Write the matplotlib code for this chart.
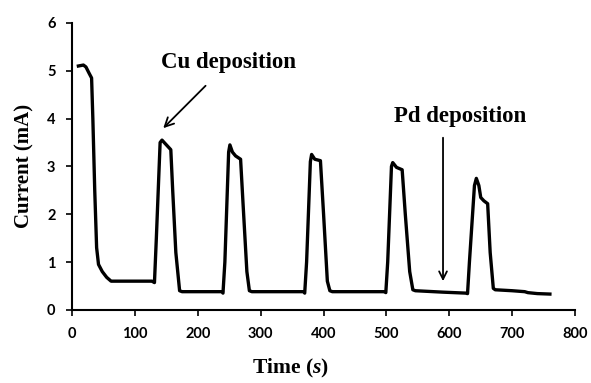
import matplotlib
matplotlib.use("Agg")
from matplotlib import pyplot as plt

plt.rcParams["mathtext.fontset"] = "custom"
plt.rcParams["mathtext.it"] = "Liberation Serif:italic:bold"
plt.rcParams["mathtext.rm"] = "Liberation Serif:bold"

# time (s) / current (mA)
time = [10, 18, 22, 27, 31, 33, 36, 39, 42, 48, 55, 62, 100, 127,
        131, 134, 140, 143, 150, 157, 160, 165, 171, 175,
        238, 240, 243, 249, 251, 255, 260, 268, 272, 278, 282, 286,
        368, 370, 373, 379, 381, 386, 395, 400, 406, 410, 414,
        497, 499, 502, 508, 510, 516, 525, 530, 537, 542, 546,
        590, 626, 629, 632, 640, 643, 647, 650, 655, 661, 665, 670, 673,
        700, 720, 725, 740, 760]
current = [5.1, 5.12, 5.08, 4.95, 4.85, 4.0, 2.5, 1.3, 0.95, 0.8, 0.68, 0.6, 0.6, 0.6,
           0.57, 1.5, 3.5, 3.55, 3.45, 3.35, 2.5, 1.2, 0.4, 0.38,
           0.38, 0.35, 1.0, 3.3, 3.45, 3.3, 3.22, 3.15, 2.2, 0.8, 0.4, 0.38,
           0.38, 0.35, 1.0, 3.1, 3.25, 3.15, 3.12, 2.0, 0.6, 0.4, 0.38,
           0.38, 0.36, 1.0, 3.0, 3.08, 2.98, 2.93, 2.0, 0.8, 0.42, 0.40,
           0.37, 0.35, 0.34, 1.0, 2.6, 2.75, 2.6, 2.35, 2.28, 2.22, 1.2, 0.45, 0.42,
           0.4, 0.38, 0.36, 0.34, 0.33]

xticks = [0, 100, 200, 300, 400, 500, 600, 700, 800]
yticks = [0, 1, 2, 3, 4, 5, 6]

serif = {"family": "Liberation Serif", "weight": "bold"}

fig = plt.figure(figsize=(5.91, 3.83), dpi=100)
ax = fig.add_axes([0.122, 0.191, 0.851, 0.749])
ax.plot(time, current, color="black", lw=2.4, solid_joinstyle="round")

ax.set_xlim(0, 800)
ax.set_ylim(0, 6)
ax.set_xticks(xticks)
ax.set_yticks(yticks)
for lab in ax.get_xticklabels() + ax.get_yticklabels():
    lab.set_family("Lato")
    lab.set_weight("bold")
    lab.set_fontsize(10.5)
ax.tick_params(direction="out", length=4, width=1.2, pad=8)
ax.spines["top"].set_visible(False)
ax.spines["right"].set_visible(False)
ax.spines["left"].set_linewidth(1.5)
ax.spines["bottom"].set_linewidth(1.5)

ax.set_xlabel("Time ($s$)", fontsize=15.5, **serif)
ax.xaxis.set_label_coords(0.435, -0.165)
ax.set_ylabel("Current (mA)", fontsize=15, labelpad=9, **serif)

ax.annotate("Cu deposition", xy=(145, 3.8), xytext=(249, 5.17),
            ha="center", va="center", fontsize=16.5, **serif,
            arrowprops=dict(arrowstyle="->", lw=1.3, color="black",
                            mutation_scale=16, shrinkA=10, shrinkB=0))
ax.annotate("Pd deposition", xy=(617, 4.04), ha="center", va="center",
            fontsize=16.5, **serif)
ax.annotate("", xy=(590, 0.6), xytext=(590, 3.6),
            arrowprops=dict(arrowstyle="->", lw=1.3, color="black",
                            mutation_scale=14, shrinkA=0, shrinkB=0))

plt.savefig("out.png", dpi=100)
